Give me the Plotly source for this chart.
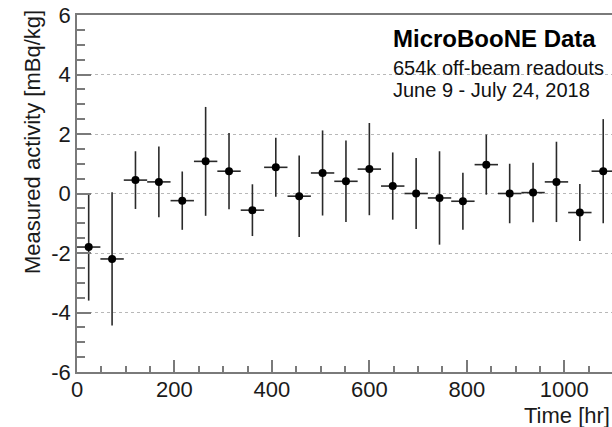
import plotly.graph_objects as go

# ---- data ----
time_hr = [24, 72, 120, 168, 216, 264, 312, 360, 408, 456, 504, 552,
           600, 648, 696, 744, 792, 840, 888, 936, 984, 1032, 1080]
activity = [-1.80, -2.20, 0.45, 0.39, -0.24, 1.08, 0.75, -0.56, 0.88, -0.09, 0.69, 0.41,
            0.82, 0.25, 0.00, -0.15, -0.26, 0.97, 0.00, 0.03, 0.39, -0.64, 0.75]
activity_err = [1.80, 2.24, 0.97, 1.19, 0.98, 1.83, 1.28, 0.87, 0.99, 1.37, 1.43, 1.37,
                1.55, 1.13, 1.19, 1.57, 0.96, 1.01, 1.00, 1.00, 1.35, 0.96, 1.75]
time_halfwidth = [24] * len(time_hr)

x_ticks = [0, 200, 400, 600, 800, 1000]
y_ticks = [-6, -4, -2, 0, 2, 4, 6]

title_text = "MicroBooNE Data"
info_lines = ["654k off-beam readouts", "June 9 - July 24, 2018"]

FONT = "Liberation Sans, Arial, Helvetica, sans-serif"
AXC = "#7a7a7a"

fig = go.Figure()
fig.add_trace(go.Scatter(
    x=time_hr, y=activity, mode="markers",
    marker=dict(color="black", size=8),
    error_y=dict(type="data", array=activity_err, visible=True,
                 width=0, thickness=1.6, color="#2a2a2a"),
    error_x=dict(type="data", array=time_halfwidth, visible=True,
                 width=0, thickness=1.6, color="#2a2a2a"),
    showlegend=False,
))

W, H = 612, 427
L, T, B, R = 77, 15, 55, 0

fig.update_layout(
    width=W, height=H,
    margin=dict(l=L, r=R, t=T, b=B, pad=0, autoexpand=False),
    paper_bgcolor="white", plot_bgcolor="white",
    font=dict(family=FONT, size=22, color="#1a1a1a"),
    showlegend=False,
)

fig.update_xaxes(
    range=[0, 1098], tickvals=x_ticks, ticktext=[str(v) for v in x_ticks],
    ticks="inside", ticklen=12, tickwidth=1.5, tickcolor=AXC,
    minor=dict(dtick=50, ticks="inside", ticklen=6, tickwidth=1.5, tickcolor=AXC, showgrid=False),
    showline=True, linecolor=AXC, linewidth=1.5, mirror=True,
    showgrid=False, zeroline=False, automargin=False, ticklabelstandoff=-3,
    tickfont=dict(size=22, family=FONT, color="#1a1a1a"),
)
fig.update_yaxes(
    range=[-6, 6], tickvals=y_ticks, ticktext=[str(v) for v in y_ticks],
    ticks="inside", ticklen=14, tickwidth=1.5, tickcolor=AXC,
    minor=dict(dtick=0.5, ticks="inside", ticklen=8, tickwidth=1.5, tickcolor=AXC, showgrid=False),
    showline=True, linecolor=AXC, linewidth=1.5, mirror=False,
    showgrid=True, gridcolor="#b8b8b8", griddash="dot", gridwidth=1,
    zeroline=False, automargin=False,
    tickfont=dict(size=22, family=FONT, color="#1a1a1a"),
)

pw = W - L - R
ph = H - T - B

def px_x(p):
    return (p - L) / pw

def px_y(p):
    return (H - B - p) / ph

# white box behind the text (covers gridline)
fig.add_shape(type="rect", xref="paper", yref="paper",
              x0=px_x(382), x1=1.0, y0=px_y(106), y1=px_y(20),
              fillcolor="white", line=dict(width=0), layer="between")

fig.add_annotation(text="<b>" + title_text + "</b>", xref="paper", yref="paper",
                   x=px_x(391), y=px_y(38), xanchor="left", yanchor="middle",
                   showarrow=False, font=dict(size=24, family=FONT, color="black"))
fig.add_annotation(text=info_lines[0], xref="paper", yref="paper",
                   x=px_x(391), y=px_y(67.5), xanchor="left", yanchor="middle",
                   showarrow=False, font=dict(size=20, family=FONT, color="#111"))
fig.add_annotation(text=info_lines[1], xref="paper", yref="paper",
                   x=px_x(391), y=px_y(89.5), xanchor="left", yanchor="middle",
                   showarrow=False, font=dict(size=20, family=FONT, color="#111"))

# axis titles
fig.add_annotation(text="Measured activity [mBq/kg]", xref="paper", yref="paper",
                   x=px_x(32), y=px_y(142), xanchor="center", yanchor="middle",
                   textangle=-90, showarrow=False,
                   font=dict(size=22, family=FONT, color="#1a1a1a"))
fig.add_annotation(text="Time [hr]", xref="paper", yref="paper",
                   x=px_x(611.5), y=px_y(415), xanchor="right", yanchor="middle",
                   showarrow=False,
                   font=dict(size=22, family=FONT, color="#1a1a1a"))

fig.write_html("out.html", config={"displayModeBar": False},
               post_script="document.body.style.margin='0';document.body.style.overflow='hidden';")
